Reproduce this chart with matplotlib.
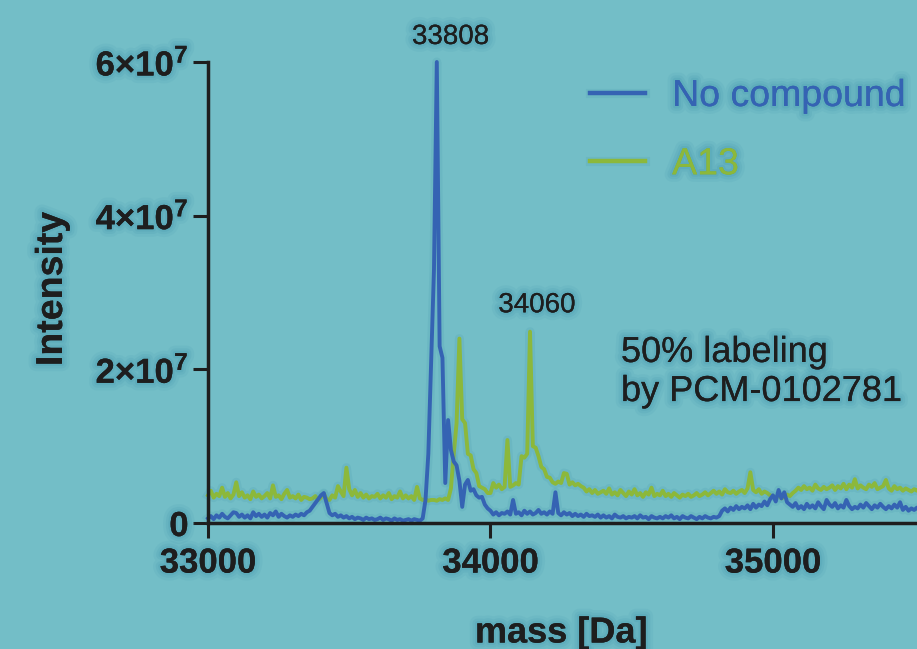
import numpy as np
import matplotlib
import matplotlib.pyplot as plt
import matplotlib.patheffects as pe

matplotlib.use("Agg")

BG    = "#73bec7"
BLUE  = "#3563b3"
GREEN = "#8cb83b"
INK   = "#1e1e1e"
SHADE = "#3f92aa"

# deconvoluted spectra, sampled every 10 Da from 33000 Da, intensities in 1e6 counts
mass_start = 33000
mass_step  = 10

no_compound = [
    0.6, 0.9, 0.5, 1.0, 0.7, 1.2, 0.8, 0.6, 1.0, 1.4,      # 33000
    1.3, 0.8, 1.1, 0.7, 1.0, 0.6, 1.4, 0.9, 1.2, 0.8,      # 33100
    1.1, 0.7, 1.3, 1.0, 1.5, 0.8, 1.2, 0.9, 0.7, 1.0,      # 33200
    0.8, 1.1, 0.9, 1.2, 1.0, 1.4, 1.6, 2.1, 2.6, 3.1,      # 33300
    3.6, 3.9, 2.6, 1.3, 1.0, 1.2, 0.8, 1.0, 0.7, 0.9,      # 33400
    0.6, 0.8, 0.5, 0.7, 0.6, 0.4, 0.7, 0.5, 0.6, 0.4,      # 33500
    0.5, 0.7, 0.4, 0.6, 0.5, 0.3, 0.6, 0.4, 0.5, 0.3,      # 33600
    0.4, 0.5, 0.3, 0.5, 0.4, 0.3, 0.6, 3.0, 9.0, 21.0,     # 33700
    33.0, 60.0, 23.0, 21.5, 5.2, 13.4, 9.5, 8.0, 7.5, 5.5, # 33800
    2.1, 5.0, 5.6, 4.2, 4.4, 3.6, 3.3, 3.4, 2.4, 1.9,      # 33900
    1.6, 1.1, 1.4, 1.0, 1.3, 1.2, 1.5, 1.1, 3.0, 1.2,      # 34000
    1.4, 1.0, 1.6, 1.2, 1.5, 1.1, 1.3, 1.7, 1.2, 1.4,      # 34100
    1.1, 1.5, 1.2, 4.0, 1.3, 1.0, 1.4, 1.1, 1.3, 0.9,      # 34200
    1.2, 0.9, 1.1, 0.8, 1.2, 0.9, 1.0, 0.8, 1.1, 0.7,      # 34300
    1.0, 0.7, 0.9, 0.6, 1.1, 0.8, 0.7, 0.9, 0.6, 0.8,      # 34400
    0.7, 0.9, 0.6, 1.0, 0.7, 0.8, 0.5, 0.9, 0.7, 0.6,      # 34500
    0.8, 0.6, 0.9, 0.7, 1.0, 0.6, 0.8, 0.5, 0.9, 0.7,      # 34600
    0.6, 0.9, 0.7, 0.5, 0.8, 0.6, 0.9, 0.7, 0.6, 0.8,      # 34700
    0.7, 0.9, 1.6, 1.9, 1.5, 2.0, 1.7, 2.2, 1.8, 2.1,      # 34800
    1.9, 2.3, 1.8, 2.5, 2.0, 2.4, 2.2, 2.8, 2.3, 3.1,      # 34900
    3.6, 2.8, 4.3, 3.2, 4.0, 2.7, 2.4, 2.1, 2.6, 1.9,      # 35000
    2.2, 1.8, 2.5, 2.0, 2.3, 1.9, 2.7, 2.2, 1.8, 3.0,      # 35100
    2.4, 2.1, 2.6, 1.9, 2.3, 2.0, 3.0, 2.2, 1.8, 2.1,      # 35200
    1.9, 2.4, 2.0, 2.6, 2.2, 1.8, 2.3, 2.0, 2.5, 2.1,      # 35300
    1.8, 2.2, 1.9, 2.4, 2.0, 2.7, 1.7, 2.1, 1.6, 1.9,      # 35400
    1.7, 2.0, 1.6, 1.9, 1.5, 1.8, 1.6, 1.9, 1.7, 1.5,      # 35500
]

a13 = [
    3.6, 4.2, 3.3, 3.8, 3.5, 4.6, 3.4, 3.9, 3.2, 3.7,      # 33000
    5.3, 3.5, 4.0, 3.3, 3.6, 3.1, 4.1, 3.4, 3.7, 3.2,      # 33100
    3.5, 3.9, 3.2, 4.9, 3.4, 3.6, 3.1, 3.8, 4.3, 3.3,      # 33200
    3.5, 3.2, 3.7, 3.0, 3.4, 3.3, 3.1, 3.2, 3.5, 3.0,      # 33300
    3.3, 3.8, 3.1, 3.0, 3.6, 3.3, 4.8, 4.1, 3.5, 7.2,      # 33400
    4.4, 3.6, 4.3, 3.4, 3.9, 3.3, 3.7, 3.2, 3.5, 3.4,      # 33500
    3.8, 3.2, 3.6, 3.3, 3.9, 3.1, 3.5, 3.3, 4.1, 3.2,      # 33600
    3.6, 3.2, 3.5, 3.0, 4.7, 3.2, 3.0, 3.1, 2.9, 3.0,      # 33700
    3.0, 2.9, 3.1, 3.0, 3.2, 3.0, 4.5, 9.0, 13.0, 24.0,    # 33800
    13.5, 13.0, 9.0, 8.8, 7.0, 6.5, 4.8, 4.6, 4.4, 3.9,    # 33900
    3.9, 5.2, 4.6, 5.0, 4.4, 4.7, 10.8, 4.7, 4.9, 5.2,     # 34000
    5.0, 8.7, 8.5, 9.0, 24.9, 10.0, 9.8, 8.7, 7.3, 7.0,    # 34100
    6.0, 5.9, 5.3, 5.1, 5.4, 5.2, 6.5, 6.4, 5.0, 5.3,      # 34200
    4.9, 5.1, 4.8, 4.6, 4.1, 4.4, 3.9, 4.3, 3.8, 4.0,      # 34300
    4.2, 3.8, 4.5, 3.7, 4.0, 3.6, 4.3, 3.9, 3.5, 4.1,      # 34400
    3.7, 4.4, 3.6, 3.9, 3.4, 4.0, 3.7, 4.6, 3.5, 3.8,      # 34500
    3.6, 4.2, 3.5, 3.8, 3.4, 3.9, 3.6, 3.3, 3.7, 3.5,      # 34600
    3.8, 3.4, 3.6, 3.9, 3.5, 3.7, 4.0, 3.6, 3.9, 4.2,      # 34700
    3.8, 4.1, 3.7, 4.4, 4.0, 3.9, 4.2, 3.8, 4.1, 4.3,      # 34800
    3.9, 4.5, 6.6, 4.3, 4.0, 4.4, 3.8, 4.1, 3.9, 3.6,      # 34900
    3.5, 3.3, 3.6, 3.2, 3.4, 3.7, 3.5, 3.9, 4.2, 4.6,      # 35000
    4.3, 4.8, 4.4, 4.6, 4.2, 5.0, 4.5, 4.3, 4.7, 4.4,      # 35100
    4.6, 4.9, 4.3, 4.8, 4.5, 5.1, 4.4, 5.0, 4.6, 5.7,      # 35200
    4.5, 4.9, 4.6, 4.4, 5.0, 4.7, 5.2, 4.4, 4.6, 4.8,      # 35300
    5.6, 4.5, 4.2, 4.8, 4.4, 4.6, 4.2, 4.5, 4.3, 4.1,      # 35400
    4.4, 4.2, 4.5, 4.1, 4.3, 4.0, 4.2, 4.4, 4.1, 4.3,      # 35500
]

peak_labels  = ["33808", "34060"]
x_ticks      = [33000, 34000, 35000]
y_ticks      = [0, 2e7, 4e7, 6e7]
y_ticklabels = ["0", "2×10$^{7}$", "4×10$^{7}$", "6×10$^{7}$"]

plt.rcParams["font.family"] = ["Liberation Sans", "DejaVu Sans"]
plt.rcParams["mathtext.fontset"] = "custom"
plt.rcParams["mathtext.rm"] = "Liberation Sans:bold"
plt.rcParams["mathtext.it"] = "Liberation Sans:bold"
plt.rcParams["mathtext.bf"] = "Liberation Sans:bold"

mass  = mass_start + mass_step * np.arange(len(no_compound))
blue  = np.array(no_compound) * 1e6
green = np.array(a13) * 1e6

# soft dark glow behind text, built from a few translucent strokes
halo_txt = [
    pe.withStroke(linewidth=11, foreground=SHADE, alpha=0.10),
    pe.withStroke(linewidth=7, foreground=SHADE, alpha=0.14),
    pe.withStroke(linewidth=3.5, foreground=SHADE, alpha=0.18),
]
halo_line = [
    pe.Stroke(linewidth=6.5, foreground=SHADE, alpha=0.15),
    pe.Normal(),
]

fig = plt.figure(figsize=(9.17, 6.49), dpi=100, facecolor=BG)
ax  = fig.add_axes([208 / 917, 1 - 523 / 649, 1 - 208 / 917, (523 - 62) / 649])
ax.set_facecolor(BG)

l_green, = ax.plot(mass, green, color=GREEN, lw=2.8, solid_joinstyle="round",
                   clip_on=False, zorder=2, label="A13", path_effects=halo_line)
l_blue,  = ax.plot(mass, blue, color=BLUE, lw=2.8, solid_joinstyle="round",
                   clip_on=False, zorder=3, label="No compound", path_effects=halo_line)

ax.set_xlim(33000, 35510)
ax.set_ylim(0, 6e7)

for side in ("top", "right"):
    ax.spines[side].set_visible(False)
for side in ("left", "bottom"):
    ax.spines[side].set_linewidth(2.5)
    ax.spines[side].set_color(INK)
    ax.spines[side].set_zorder(4)

ax.set_xticks(x_ticks)
ax.set_xticklabels([str(t) for t in x_ticks], fontweight="bold")
ax.set_yticks(y_ticks)
ax.set_yticklabels(y_ticklabels, fontweight="bold")
ax.tick_params(direction="out", length=11, width=2.2, color=INK,
               labelsize=25, labelcolor=INK)
ax.tick_params(axis="x", pad=6)
ax.tick_params(axis="y", pad=3)
for lbl in ax.get_xticklabels() + ax.get_yticklabels():
    lbl.set_path_effects(halo_txt)

fig.text(561 / 917, 1 - 633 / 649, "mass [Da]", ha="center", va="center",
         fontsize=26, fontweight="bold", color=INK, path_effects=halo_txt)
fig.text(52 / 917, 1 - 289 / 649, "Intensity", rotation=90, ha="center", va="center",
         fontsize=27, fontweight="bold", color=INK, path_effects=halo_txt)

# peak labels
i_blue  = int(np.argmax(blue))
i_green = int(np.argmax(green))
ax.annotate(peak_labels[0], xy=(mass[i_blue], blue[i_blue]), xytext=(10, 18),
            textcoords="offset points", ha="center", va="center",
            fontsize=20, color=INK, path_effects=halo_txt, annotation_clip=False)
ax.annotate(peak_labels[1], xy=(mass[i_green], green[i_green]), xytext=(5, 19),
            textcoords="offset points", ha="center", va="center",
            fontsize=20, color=INK, path_effects=halo_txt)

ax.text(621 / 917, 1 - 372 / 649, "50% labeling\nby PCM-0102781",
        transform=fig.transFigure, ha="left", va="center", fontsize=26,
        linespacing=1.15, color=INK, path_effects=halo_txt)

leg = ax.legend(handles=[l_blue, l_green], loc="upper left",
                bbox_to_anchor=(590 / 917, 1 - 78 / 649), bbox_transform=fig.transFigure,
                frameon=False, fontsize=27, handlelength=1.47, handletextpad=0.72,
                labelspacing=0.86, borderpad=0, borderaxespad=0)
for txt, line in zip(leg.get_texts(), [l_blue, l_green]):
    txt.set_color(line.get_color())
    txt.set_path_effects(halo_txt)
for line in leg.get_lines():
    line.set_linewidth(3.2)

fig.savefig("out.png", dpi=100, facecolor=BG)
plt.close(fig)
